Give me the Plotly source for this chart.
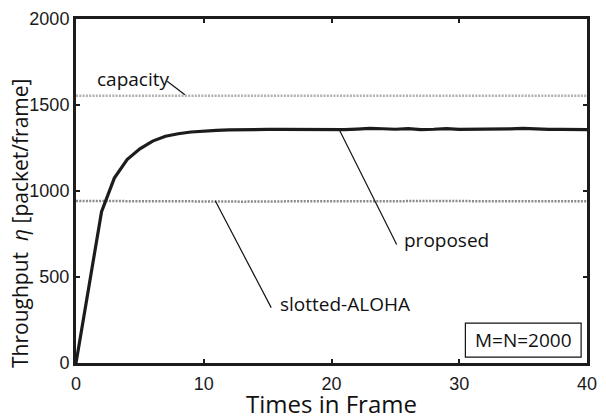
import plotly.graph_objects as go

frames = list(range(0, 41))
proposed = [0, 445, 880, 1075, 1183, 1245, 1290, 1318, 1333, 1343, 1349,
            1352, 1355, 1357, 1358, 1358, 1358, 1358, 1358, 1357, 1355,
            1357, 1360, 1364, 1362, 1359, 1363, 1357, 1359, 1363, 1358,
            1358, 1358, 1359, 1361, 1364, 1360, 1358, 1358, 1358, 1357]
aloha = [942, 943, 943, 942, 941, 941, 942, 943, 942, 941, 942,
         943, 939, 938, 939, 941, 942, 942, 941, 941, 941,
         942, 941, 941, 941, 941, 942, 941, 941, 941, 942,
         941, 941, 941, 942, 941, 941, 941, 941, 942, 941]
capacity = [1554] * 41

FONT = "Open Sans"
TICK_FONT = "Liberation Sans"

fig = go.Figure()
fig.add_trace(go.Scatter(x=frames, y=capacity, mode="lines",
                         line=dict(color="#b0b0b0", width=2.5, dash="2px,1.3px"),
                         name="capacity", showlegend=False))
fig.add_trace(go.Scatter(x=frames, y=aloha, mode="lines",
                         line=dict(color="#8a8a8a", width=2.5, dash="2px,1.3px"),
                         name="slotted-ALOHA", showlegend=False))
fig.add_trace(go.Scatter(x=frames, y=proposed, mode="lines",
                         line=dict(color="#1c1c1c", width=3.2),
                         name="proposed", showlegend=False))

# leader lines (from label to curve)
leaders = [
    ((7.14, 1638), (8.52, 1559)),
    ((10.9, 943), (15.28, 322)),
    ((20.65, 1350), (25.1, 689)),
]
for (x0, y0), (x1, y1) in leaders:
    fig.add_shape(type="line", xref="x", yref="y", x0=x0, y0=y0, x1=x1, y1=y1,
                  line=dict(color="#111", width=1.2))

labels = [
    ("capacity", 1.45, 1650),
    ("slotted-ALOHA", 15.85, 345),
    ("proposed", 25.55, 718),
]
for t, x, y in labels:
    fig.add_annotation(text=t, x=x, y=y, xref="x", yref="y", showarrow=False,
                       xanchor="left", yanchor="middle",
                       font=dict(family=FONT, size=19, color="#111"))

# parameter box (lower right, inside the frame)
box_x0, box_x1, box_y0, box_y1 = 0.762, 0.9885, 0.017, 0.116
fig.add_shape(type="rect", xref="paper", yref="paper",
              x0=box_x0, x1=box_x1, y0=box_y0, y1=box_y1,
              line=dict(color="#111", width=1.2), fillcolor="white", layer="above")
fig.add_annotation(text="M=N=2000", x=(box_x0 + box_x1) / 2, y=(box_y0 + box_y1) / 2,
                   xref="paper", yref="paper", showarrow=False,
                   xanchor="center", yanchor="middle",
                   font=dict(family=FONT, size=19, color="#111"))

# y-axis title as annotation (placed slightly below the plot centre, as in the reference)
fig.add_annotation(text="Throughput  <i>η</i> [packet/frame]", textangle=-90,
                   x=-0.111, y=0.405, xref="paper", yref="paper",
                   xanchor="center", yanchor="middle", showarrow=False,
                   font=dict(family=FONT, size=21, color="#111"))

axis_common = dict(showline=True, linecolor="#1c1c1c", linewidth=3,
                   mirror="allticks", ticks="inside", ticklen=4, tickwidth=2,
                   tickcolor="#1c1c1c", showgrid=False, zeroline=False,
                   tickfont=dict(family=TICK_FONT, size=18, color="#1a1a1a"))

fig.update_xaxes(range=[0, 40], tickvals=[0, 10, 20, 30, 40], ticklabelstandoff=2,
                 title=dict(text="Times in Frame", standoff=1,
                            font=dict(family=FONT, size=24, color="#111")),
                 **axis_common)
fig.update_yaxes(range=[0, 2000], tickvals=[0, 500, 1000, 1500, 2000],
                 **axis_common)

fig.update_layout(width=606, height=420,
                  margin=dict(l=76, r=9, t=15, b=51),
                  paper_bgcolor="white", plot_bgcolor="white")

fig.write_html("out.html")
